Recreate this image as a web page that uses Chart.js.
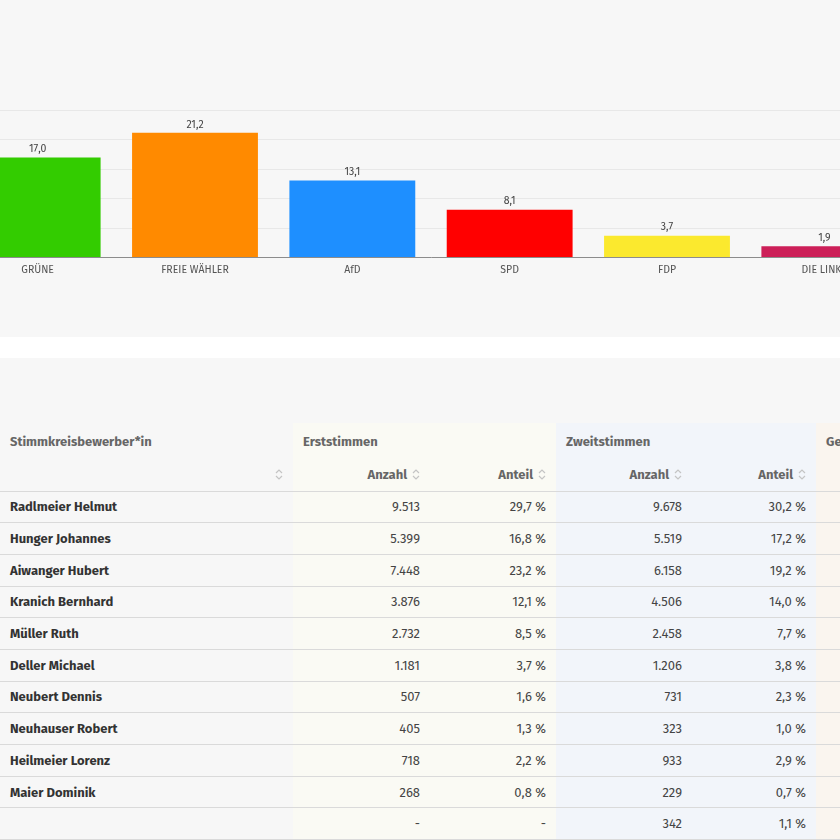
<!DOCTYPE html>
<html lang="de">
<head>
<meta charset="utf-8">
<title>Ergebnis Stimmkreis</title>
<script src="https://cdn.jsdelivr.net/npm/chart.js@4"></script>
<style>
  html, body { margin:0; padding:0; }
  body { width:840px; height:840px; overflow:hidden; position:relative; background:#f7f7f7;
         font-family: "Fira Sans", Lato, "Noto Sans", sans-serif; color:#333; }
  #chartBox { position:absolute; top:0; left:0; width:840px; height:337px; background:#f7f7f7; overflow:hidden; }
  #chartWrap { position:absolute; top:100px; left:-41px; width:944px; height:182px; }
  #gap { position:absolute; top:337px; left:0; width:840px; height:21px; background:#fff; }
  #tableBox { position:absolute; top:358px; left:0; width:840px; height:482px; background:#f7f7f7; overflow:hidden; }
  table { position:absolute; top:65px; left:0; border-collapse:collapse; table-layout:fixed; width:1000px; font-size:13px; }
  th, td { padding:0 10px; white-space:nowrap; box-sizing:border-box; }
  th { color:#666; font-weight:700; }
  thead tr.top th { height:36px; text-align:left; }
  thead tr.sub th { height:32px; text-align:right; border-bottom:1px solid #dadada; }
  tbody td { height:31.7px; border-bottom:1px solid #dadada; text-align:right; color:#444; }
  tbody td.name { text-align:left; font-weight:700; color:#333; }
  .erst { background:#fafaf4; }
  .zweit { background:#f2f5fa; }
  .ges { background:#faf5ef; }
  .sort { display:inline-block; width:8px; height:11px; margin-left:5px; vertical-align:-1px; }
</style>
</head>
<body>
<div id="chartBox"><div id="chartWrap"><canvas id="resChart"></canvas></div></div>
<div id="gap"></div>
<div id="tableBox">
  <table>
    <colgroup>
      <col style="width:293px"><col style="width:137px"><col style="width:126px">
      <col style="width:136px"><col style="width:124px"><col style="width:184px">
    </colgroup>
    <thead>
      <tr class="top">
        <th>Stimmkreisbewerber*in</th>
        <th class="erst" colspan="2">Erststimmen</th>
        <th class="zweit" colspan="2">Zweitstimmen</th>
        <th class="ges">Gesamtstimmen</th>
      </tr>
      <tr class="sub" id="subHead"></tr>
    </thead>
    <tbody id="rows"></tbody>
  </table>
</div>
<script>
// Balkendiagramm: Gesamtstimmen in Prozent
var parties = ['GRÜNE', 'FREIE WÄHLER', 'AfD', 'SPD', 'FDP', 'DIE LINKE'];
var shares = [17.0, 21.2, 13.1, 8.1, 3.7, 1.9];
var partyColors = ['#33cc00', '#ff8a00', '#1e8fff', '#ff0000', '#fbe92e', '#cc1f58'];
var yTicks = [0, 5, 10, 15, 20, 25];

// Tabelle: Stimmkreisbewerber
var candidates = ['Radlmeier Helmut', 'Hunger Johannes', 'Aiwanger Hubert', 'Kranich Bernhard', 'Müller Ruth',
                  'Deller Michael', 'Neubert Dennis', 'Neuhauser Robert', 'Heilmeier Lorenz', 'Maier Dominik', ''];
var erstAnzahl = ['9.513', '5.399', '7.448', '3.876', '2.732', '1.181', '507', '405', '718', '268', '-'];
var erstAnteil = ['29,7 %', '16,8 %', '23,2 %', '12,1 %', '8,5 %', '3,7 %', '1,6 %', '1,3 %', '2,2 %', '0,8 %', '-'];
var zweitAnzahl = ['9.678', '5.519', '6.158', '4.506', '2.458', '1.206', '731', '323', '933', '229', '342'];
var zweitAnteil = ['30,2 %', '17,2 %', '19,2 %', '14,0 %', '7,7 %', '3,8 %', '2,3 %', '1,0 %', '2,9 %', '0,7 %', '1,1 %'];

var sortIcon = '<svg class="sort" viewBox="0 0 8 11"><path d="M1 4 L4 1 L7 4" fill="none" stroke="#c4c4c4" stroke-width="1.2"/>' +
               '<path d="M1 7 L4 10 L7 7" fill="none" stroke="#c4c4c4" stroke-width="1.2"/></svg>';

var sub = document.getElementById('subHead');
sub.innerHTML = '<th>' + sortIcon + '</th>' +
    '<th class="erst">Anzahl' + sortIcon + '</th><th class="erst">Anteil' + sortIcon + '</th>' +
    '<th class="zweit">Anzahl' + sortIcon + '</th><th class="zweit">Anteil' + sortIcon + '</th>' +
    '<th class="ges"></th>';

var body = document.getElementById('rows');
candidates.forEach(function (name, i) {
    var tr = document.createElement('tr');
    tr.innerHTML = '<td class="name">' + name + '</td>' +
        '<td class="erst">' + erstAnzahl[i] + '</td><td class="erst">' + erstAnteil[i] + '</td>' +
        '<td class="zweit">' + zweitAnzahl[i] + '</td><td class="zweit">' + zweitAnteil[i] + '</td>' +
        '<td class="ges"></td>';
    body.appendChild(tr);
});

// Werte über den Balken
var valueLabels = {
    id: 'valueLabels',
    afterDatasetsDraw: function (chart) {
        var ctx = chart.ctx;
        var meta = chart.getDatasetMeta(0);
        ctx.save();
        ctx.font = '10.5px "Fira Sans", Lato, sans-serif';
        ctx.fillStyle = '#444';
        ctx.textAlign = 'center';
        ctx.textBaseline = 'bottom';
        meta.data.forEach(function (bar, i) {
            var v = chart.data.datasets[0].data[i];
            ctx.fillText(v.toFixed(1).replace('.', ','), bar.x, bar.y - 3);
        });
        ctx.restore();
    }
};

new Chart(document.getElementById('resChart'), {
    type: 'bar',
    data: { labels: parties,
            datasets: [{ data: shares, backgroundColor: partyColors, borderWidth: 0,
                         barPercentage: 0.8, categoryPercentage: 1.0 }] },
    options: {
        responsive: true, maintainAspectRatio: false, animation: false,
        layout: { padding: { top: 10.5, left: 0, right: 0, bottom: 0 } },
        plugins: { legend: { display: false }, tooltip: { enabled: false } },
        scales: {
            x: { grid: { display: false, drawTicks: false },
                 border: { display: true, color: '#8c8c8c', width: 1 },
                 ticks: { padding: 6, color: '#555', font: { size: 10.5, family: '"Fira Sans", Lato, sans-serif' } } },
            y: { min: yTicks[0], max: yTicks[yTicks.length - 1],
                 afterBuildTicks: function (axis) { axis.ticks = yTicks.map(function (v) { return { value: v }; }); },
                 grid: { color: '#e8e8e8', drawTicks: false },
                 border: { display: false },
                 ticks: { display: false } }
        }
    },
    plugins: [valueLabels]
});
</script>
</body>
</html>
